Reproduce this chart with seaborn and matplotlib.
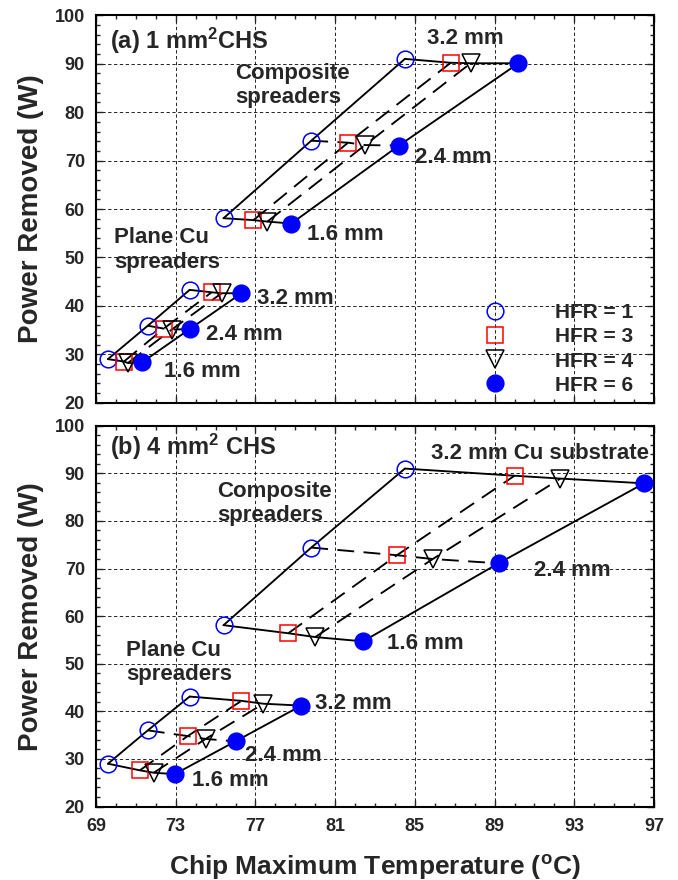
import matplotlib
matplotlib.use("Agg")
import matplotlib.pyplot as plt
import numpy as np
import pandas as pd
import seaborn as sns
from matplotlib.ticker import MultipleLocator, FixedLocator

# ---------------- data ----------------
thickness = ["1.6 mm", "2.4 mm", "3.2 mm"]
hfr_levels = [1, 3, 4, 6]
x_ticks = [69, 73, 77, 81, 85, 89, 93, 97]

# panel (a) 1 mm^2 CHS -- rows follow hfr_levels, columns follow thickness
a_comp_T = [[75.4, 79.8, 84.5], [76.9, 81.65, 86.8], [77.6, 82.5, 87.8], [78.8, 84.2, 90.2]]
a_comp_P = [[58.1, 74.1, 91.0], [57.7, 73.7, 90.2], [57.4, 73.2, 90.1], [57.0, 73.1, 90.1]]
a_plane_T = [[69.6, 71.6, 73.7], [70.4, 72.4, 74.8], [70.6, 72.8, 75.3], [71.3, 73.7, 76.3]]
a_plane_P = [[29.0, 35.9, 43.3], [28.5, 35.3, 42.8], [28.2, 35.1, 42.6], [28.3, 35.2, 42.6]]

# panel (b) 4 mm^2 CHS
b_comp_T = [[75.4, 79.8, 84.5], [78.65, 84.1, 90.0], [80.0, 85.9, 92.3], [82.4, 89.2, 96.5]]
b_comp_P = [[58.1, 74.4, 91.0], [56.4, 72.8, 89.5], [55.6, 72.0, 88.9], [54.7, 71.1, 87.9]]
b_plane_T = [[69.6, 71.6, 73.7], [71.2, 73.6, 76.3], [71.9, 74.5, 77.4], [72.95, 76.0, 79.3]]
b_plane_P = [[29.0, 36.0, 43.1], [27.6, 34.8, 42.2], [27.1, 34.2, 41.6], [26.8, 33.7, 41.2]]

legend_labels = ["HFR = 1", "HFR = 3", "HFR = 4", "HFR = 6"]

# ---------------- build long table ----------------
rows = []
for panel, spreads in (("a", (("comp", a_comp_T, a_comp_P), ("plane", a_plane_T, a_plane_P))),
                       ("b", (("comp", b_comp_T, b_comp_P), ("plane", b_plane_T, b_plane_P)))):
    for sp, TT, PP in spreads:
        for i, h in enumerate(hfr_levels):
            for j, th in enumerate(thickness):
                rows.append(dict(panel=panel, spreader=sp, hfr=h, hi=i, thick=th, tj=j,
                                 T=TT[i][j], P=PP[i][j]))
df = pd.DataFrame(rows)

# ---------------- style ----------------
sns.set_style("white")
plt.rcParams["font.family"] = ["Liberation Sans", "DejaVu Sans"]
plt.rcParams["font.weight"] = "bold"
plt.rcParams["mathtext.fontset"] = "custom"
plt.rcParams["mathtext.rm"] = "Liberation Sans:bold"
plt.rcParams["mathtext.bf"] = "Liberation Sans:bold"
plt.rcParams["mathtext.default"] = "rm"

fig = plt.figure(figsize=(6.78, 8.8), dpi=100)
ax1 = fig.add_axes([0.1416, 0.5424, 0.8230, 0.4402])
ax2 = fig.add_axes([0.1416, 0.0835, 0.8230, 0.4327])

LW = 1.35
DASH = (0, (9, 5))
mstyles = {
    1: dict(marker="o", markerfacecolor="none", markeredgecolor="#0000FF", markersize=12),
    3: dict(marker="s", markerfacecolor="none", markeredgecolor="#FF0000", markersize=11.5),
    4: dict(marker="v", markerfacecolor="none", markeredgecolor="black", markersize=12.5),
    6: dict(marker="o", markerfacecolor="#0000FF", markeredgecolor="#0000FF", markersize=12),
}

for ax, panel in ((ax1, "a"), (ax2, "b")):
    d = df[df.panel == panel]
    for sp in ("comp", "plane"):
        ds = d[d.spreader == sp]
        # lines along thickness for each HFR
        for h in hfr_levels:
            sub = ds[ds.hfr == h].sort_values("tj")
            sns.lineplot(data=sub, x="T", y="P", sort=False, estimator=None, ax=ax,
                         color="black", lw=LW, linestyle="-" if h in (1, 6) else DASH,
                         legend=False, zorder=3)
        # lines across HFR at each thickness
        for th in thickness:
            sub = ds[ds.thick == th].sort_values("hi")
            sns.lineplot(data=sub, x="T", y="P", sort=False, estimator=None, ax=ax,
                         color="black", lw=LW, linestyle=DASH if th == "2.4 mm" else "-",
                         legend=False, zorder=3)
        # markers
        for h, lab in zip(hfr_levels, legend_labels):
            sub = ds[ds.hfr == h]
            kw = dict(mstyles[h])
            sns.lineplot(data=sub, x="T", y="P", sort=False, estimator=None, ax=ax,
                         linestyle="", markeredgewidth=1.1, zorder=4,
                         label=lab if (panel == "a" and sp == "comp") else None,
                         legend=False, **kw)

    ax.set_xlim(69, 97)
    ax.set_ylim(20, 100)
    ax.xaxis.set_major_locator(FixedLocator(x_ticks))
    ax.xaxis.set_minor_locator(MultipleLocator(1))
    ax.yaxis.set_major_locator(MultipleLocator(10))
    ax.yaxis.set_minor_locator(MultipleLocator(2))
    ax.grid(True, which="major", color="black", linestyle=(0, (4, 3)), linewidth=0.6)
    ax.set_axisbelow(True)
    ax.tick_params(which="both", direction="in", top=True, right=True, bottom=True, left=True,
                   width=1.0, labelsize=13, pad=8)
    ax.tick_params(which="major", length=5)
    ax.tick_params(which="minor", length=3)
    for s in ax.spines.values():
        s.set_linewidth(1.5)
        s.set_color("black")
    for t in ax.get_xticklabels() + ax.get_yticklabels():
        t.set_fontweight("bold")
    ax.set_ylabel("Power Removed (W)", fontsize=20, fontweight="bold")
    ax.yaxis.set_label_coords(-0.1165, 0.5)
    ax.yaxis.label.set_verticalalignment("center")

ax1.tick_params(labelbottom=False)
ax1.set_xlabel("")
ax2.set_xlabel("Chip Maximum Temperature ($^{\\mathrm{o}}$C)", fontsize=19, fontweight="bold", labelpad=13)

FS = 16
def note(ax, x, y, s, fs=FS):
    ax.text(x, y, s, fontsize=fs, fontweight="bold", ha="left", va="center", zorder=5)

# panel (a) annotations
note(ax1, 69.7, 94.8, "(a) 1 mm$^{2}$CHS", fs=17)
note(ax1, 85.6, 95.2, "3.2 mm")
note(ax1, 76.0, 85.55, "Composite\nspreaders")
note(ax1, 85.0, 70.7, "2.4 mm")
note(ax1, 79.6, 54.7, "1.6 mm")
note(ax1, 69.9, 51.55, "Plane Cu\nspreaders")
note(ax1, 77.1, 41.6, "3.2 mm")
note(ax1, 74.5, 34.0, "2.4 mm")
note(ax1, 72.4, 26.4, "1.6 mm")

# panel (b) annotations
note(ax2, 69.7, 95.6, "(b) 4 mm$^{2}$ CHS", fs=17)
note(ax2, 85.8, 94.2, "3.2 mm Cu substrate")
note(ax2, 75.1, 83.65, "Composite\nspreaders")
note(ax2, 91.0, 69.5, "2.4 mm")
note(ax2, 83.6, 54.3, "1.6 mm")
note(ax2, 70.5, 50.2, "Plane Cu\nspreaders")
note(ax2, 80.0, 41.6, "3.2 mm")
note(ax2, 76.5, 30.7, "2.4 mm")
note(ax2, 73.8, 25.4, "1.6 mm")

# legend
handles, labels = ax1.get_legend_handles_labels()
ax1.legend(handles, labels, loc="center left", bbox_to_anchor=(88.48, 31.1),
           bbox_transform=ax1.transData, frameon=False, borderpad=0, borderaxespad=0,
           handlelength=1.0, handletextpad=2.4, labelspacing=0.25, numpoints=1,
           prop=dict(size=15, weight="bold"))

fig.savefig("out.png", dpi=100)
